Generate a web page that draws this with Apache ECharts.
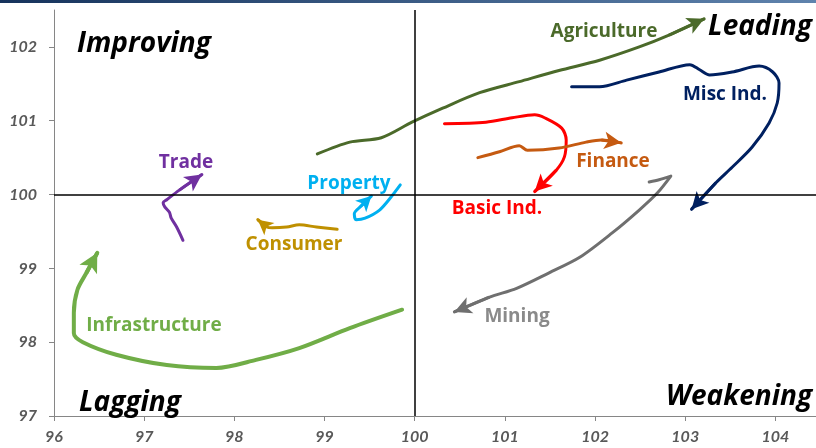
<!DOCTYPE html>
<html>
<head>
<meta charset="utf-8">
<script src="https://cdn.jsdelivr.net/npm/echarts@6/dist/echarts.min.js"></script>
<style>
html,body{margin:0;padding:0;background:#fff;}
#chart{width:816px;height:448px;}
</style>
</head>
<body>
<div id="chart"></div>
<script>
// ---- data (relative strength x, momentum y) ----
const xTicks = [96, 97, 98, 99, 100, 101, 102, 103, 104];
const yTicks = [97, 98, 99, 100, 101, 102];
const seriesNames = ['Agriculture', 'Misc Ind.', 'Basic Ind.', 'Finance', 'Mining', 'Property', 'Trade', 'Consumer', 'Infrastructure'];
const quadrantNames = ['Improving', 'Leading', 'Lagging', 'Weakening'];

const agriculture = [[98.92,100.55],[99.28,100.71],[99.63,100.77],[99.97,100.98],[100.31,101.17],[100.72,101.38],[101.16,101.53],[101.60,101.68],[102.05,101.82],[102.49,102.00],[102.82,102.16],[103.21,102.38]];
const miscInd = [[101.74,101.46],[102.05,101.46],[102.35,101.55],[102.71,101.66],[103.05,101.76],[103.16,101.69],[103.27,101.62],[103.52,101.66],[103.82,101.74],[103.97,101.66],[104.04,101.51],[104.02,101.24],[103.93,100.97],[103.74,100.64],[103.52,100.37],[103.34,100.16],[103.07,99.80]];
const basicInd = [[100.33,100.96],[100.79,100.98],[101.08,101.04],[101.33,101.08],[101.44,101.04],[101.63,100.90],[101.68,100.74],[101.66,100.51],[101.57,100.33],[101.33,100.04]];
const finance = [[100.70,100.50],[100.94,100.58],[101.16,100.66],[101.25,100.60],[101.60,100.63],[101.90,100.71],[102.07,100.74],[102.29,100.70]];
const mining = [[102.60,100.17],[102.71,100.20],[102.84,100.25],[102.69,100.02],[102.49,99.79],[102.19,99.48],[101.83,99.15],[101.49,98.94],[101.13,98.73],[100.83,98.61],[100.44,98.41]];
const property = [[99.84,100.13],[99.74,99.97],[99.61,99.79],[99.45,99.68],[99.35,99.66],[99.33,99.74],[99.41,99.85],[99.52,99.98]];
const trade = [[97.43,99.38],[97.36,99.56],[97.30,99.68],[97.28,99.76],[97.23,99.83],[97.21,99.89],[97.25,99.93],[97.39,100.06],[97.64,100.27]];
const consumer = [[99.14,99.53],[98.91,99.56],[98.72,99.59],[98.58,99.56],[98.42,99.55],[98.36,99.56],[98.26,99.66]];
const infrastructure = [[99.86,98.44],[99.28,98.19],[98.72,97.92],[98.24,97.76],[97.80,97.65],[97.25,97.69],[96.69,97.83],[96.32,98.00],[96.22,98.12],[96.22,98.40],[96.26,98.71],[96.36,98.94],[96.48,99.21]];

const seriesData = [agriculture, miscInd, basicInd, finance, mining, property, trade, consumer, infrastructure];

// ---- styles ----
const lineColors = ['#4b6a2a', '#002060', '#ff0000', '#c55a11', '#6f6f6f', '#00b0f0', '#7030a0', '#bf9000', '#70ad47'];
const labelColors = ['#4b6a2a', '#002060', '#ff0000', '#c55a11', '#8a8a8a', '#00b0f0', '#7030a0', '#bf9000', '#70ad47'];
const lineWidths = [3, 3, 3, 3, 3, 3, 3, 3, 4];
const arrowSizes = [[13, 17], [13, 17], [13, 17], [13, 17], [13, 17], [12, 15], [13, 17], [12, 15], [15, 19]];
// label centers in pixels
const labelPos = [[604, 32], [725, 95], [497, 209], [613, 162], [517, 317], [349, 184], [186, 163], [294, 245], [154, 326]];
const quadPos = [[144, 44], [760, 27], [130, 403], [739, 397]];

const chart = echarts.init(document.getElementById('chart'), null, {renderer: 'canvas'});

const axisTextStyle = {color: '#595959', fontFamily: 'Lato', fontWeight: 'bold', fontStyle: 'italic', fontSize: 16};

const series = seriesData.map((d, i) => {
  const n = d.length;
  return {
    name: seriesNames[i],
    type: 'line',
    data: d,
    smooth: 0.3,
    symbol: 'none',
    silent: true,
    z: 3,
    lineStyle: {color: lineColors[i], width: lineWidths[i], cap: 'round', join: 'round'},
    markLine: {
      silent: true,
      symbol: ['none', 'arrow'],
      symbolSize: arrowSizes[i],
      label: {show: false},
      lineStyle: {color: lineColors[i], width: lineWidths[i], type: 'solid'},
      emphasis: {disabled: true},
      data: [[{coord: d[n - 2]}, {coord: d[n - 1]}]]
    }
  };
});

series.push({
  type: 'line',
  data: [],
  silent: true,
  z: 2,
  markLine: {
    silent: true,
    symbol: ['none', 'none'],
    label: {show: false},
    lineStyle: {color: '#000', width: 1.5, type: 'solid'},
    emphasis: {disabled: true},
    data: [{xAxis: 100}, {yAxis: 100}]
  }
});

const graphics = [{
  type: 'rect',
  shape: {x: 0, y: 0, width: 816, height: 3},
  style: {fill: new echarts.graphic.LinearGradient(0, 0, 1, 0, [{offset: 0, color: '#16335c'}, {offset: 1, color: '#5f83ad'}])},
  silent: true
}];
seriesNames.forEach((nm, i) => {
  graphics.push({
    type: 'text', x: labelPos[i][0], y: labelPos[i][1], silent: true, z: 10,
    style: {text: nm, fill: labelColors[i], font: 'bold 19px "Open Sans"', textAlign: 'center', textVerticalAlign: 'middle'}
  });
});
quadrantNames.forEach((nm, i) => {
  graphics.push({
    type: 'text', x: quadPos[i][0], y: quadPos[i][1], silent: true, z: 10,
    style: {text: nm, fill: '#000', font: 'italic bold 28px "Open Sans"', textAlign: 'center', textVerticalAlign: 'middle'}
  });
});

chart.setOption({
  animation: false,
  backgroundColor: '#fff',
  grid: {left: 54, right: 0, top: 10, bottom: 32, containLabel: false},
  xAxis: {
    type: 'value', min: 96, max: 104.45, interval: 1,
    axisLine: {show: true, onZero: false, lineStyle: {color: '#868686', width: 1}},
    axisTick: {show: true, length: 5, lineStyle: {color: '#868686'}, customValues: xTicks},
    axisLabel: Object.assign({margin: 13, customValues: xTicks}, axisTextStyle),
    splitLine: {show: false}
  },
  yAxis: {
    type: 'value', min: 97, max: 102.5, interval: 1,
    axisLine: {show: true, onZero: false, lineStyle: {color: '#868686', width: 1}},
    axisTick: {show: true, length: 5, lineStyle: {color: '#868686'}, customValues: yTicks},
    axisLabel: Object.assign({margin: 17, customValues: yTicks}, axisTextStyle),
    splitLine: {show: false}
  },
  series: series,
  graphic: graphics
});
</script>
</body>
</html>
